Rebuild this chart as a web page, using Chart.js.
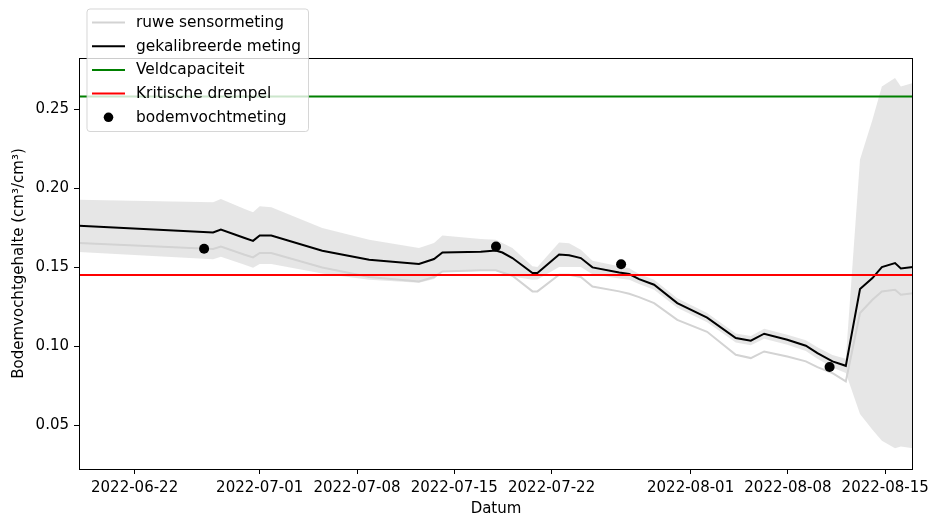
<!DOCTYPE html>
<html lang="nl">
<head>
<meta charset="utf-8">
<title>Bodemvochtgehalte</title>
<script src="https://cdn.jsdelivr.net/npm/chart.js@4.4.1/dist/chart.umd.min.js"></script>
<style>
  html, body { margin: 0; padding: 0; background: #fff; }
  #wrap { width: 928px; height: 517px; }
</style>
</head>
<body>
<div id="wrap"><canvas id="grafiek" width="928" height="517"></canvas></div>
<script>
// Meetmomenten van de sensor (UTC)
const tijdstippen = [
  '2022-06-18T00:00', '2022-06-27T15:30', '2022-06-28T05:00', '2022-06-29T22:00',
  '2022-06-30T12:30', '2022-07-01T00:00', '2022-07-01T20:00', '2022-07-05T12:00',
  '2022-07-08T21:00', '2022-07-12T11:00', '2022-07-13T13:00', '2022-07-14T03:30',
  '2022-07-16T21:45', '2022-07-17T23:40', '2022-07-18T11:00', '2022-07-19T04:20',
  '2022-07-20T15:00', '2022-07-20T23:30', '2022-07-22T13:00', '2022-07-23T06:15',
  '2022-07-24T02:30', '2022-07-24T22:30', '2022-07-26T20:40', '2022-07-27T14:00',
  '2022-07-28T07:00', '2022-07-29T09:00', '2022-07-31T01:00', '2022-08-02T04:30',
  '2022-08-04T06:00', '2022-08-05T08:00', '2022-08-06T07:00', '2022-08-07T23:00',
  '2022-08-09T07:00', '2022-08-10T03:00', '2022-08-11T05:00', '2022-08-12T04:00',
  '2022-08-13T04:30', '2022-08-14T02:00', '2022-08-14T18:15', '2022-08-15T17:00',
  '2022-08-16T03:00', '2022-08-17T00:00'
];

// Ruwe sensorwaarden (cm3/cm3)
const ruweMeting = [
  0.1652, 0.1614, 0.1630, 0.1578, 0.1561, 0.1589, 0.1589, 0.1497,
  0.1437, 0.1409, 0.1437, 0.1472, 0.1479, 0.1479, 0.1466, 0.1445,
  0.1346, 0.1346, 0.1451, 0.1451, 0.1437, 0.1377, 0.1346, 0.1331,
  0.1310, 0.1272, 0.1166, 0.1090, 0.0945, 0.0924, 0.0966, 0.0934,
  0.0903, 0.0867, 0.0829, 0.0776, 0.1209, 0.1293, 0.1346, 0.1356,
  0.1325, 0.1335
];

// Gekalibreerde waarden (cm3/cm3)
const gekalibreerdeMeting = [
  0.1761, 0.1719, 0.1738, 0.1684, 0.1666, 0.1700, 0.1700, 0.1603,
  0.1546, 0.1519, 0.1551, 0.1592, 0.1597, 0.1605, 0.1592, 0.1557,
  0.1462, 0.1462, 0.1580, 0.1574, 0.1557, 0.1498, 0.1466, 0.1456,
  0.1424, 0.1388, 0.1272, 0.1180, 0.1051, 0.1034, 0.1078, 0.1040,
  0.1002, 0.0956, 0.0903, 0.0875, 0.1361, 0.1430, 0.1500, 0.1525,
  0.1491, 0.1500
];

// Onzekerheidsband rond de gekalibreerde meting
const bandBoven = [
  0.1926, 0.1910, 0.1931, 0.1868, 0.1847, 0.1885, 0.1879, 0.1747,
  0.1673, 0.1620, 0.1652, 0.1700, 0.1677, 0.1673, 0.1652, 0.1620,
  0.1505, 0.1500, 0.1656, 0.1650, 0.1610, 0.1540, 0.1505, 0.1492,
  0.1456, 0.1420, 0.1302, 0.1210, 0.1080, 0.1063, 0.1110, 0.1072,
  0.1036, 0.0993, 0.0943, 0.0920, 0.2180, 0.2432, 0.2643, 0.2696,
  0.2643, 0.2665
];
const bandOnder = [
  0.1596, 0.1550, 0.1565, 0.1515, 0.1495, 0.1520, 0.1520, 0.1460,
  0.1420, 0.1400, 0.1425, 0.1470, 0.1475, 0.1475, 0.1462, 0.1440,
  0.1420, 0.1422, 0.1500, 0.1500, 0.1500, 0.1455, 0.1428, 0.1420,
  0.1392, 0.1356, 0.1242, 0.1150, 0.1022, 0.1005, 0.1046, 0.1008,
  0.0968, 0.0920, 0.0865, 0.0830, 0.0570, 0.0470, 0.0400, 0.0354,
  0.0365, 0.0354
];

// Handmatige bodemvochtmetingen
const puntDatums = ['2022-06-27', '2022-07-18', '2022-07-27', '2022-08-11'];
const puntWaarden = [0.1616, 0.1630, 0.1518, 0.0867];

// Referentieniveaus
const veldcapaciteit = 0.258;
const kritischeDrempel = 0.145;

// Asindeling
const xBereik = ['2022-06-18T00:00', '2022-08-17T00:00'];
const xTickDatums = ['2022-06-22', '2022-07-01', '2022-07-08', '2022-07-15',
                     '2022-07-22', '2022-08-01', '2022-08-08', '2022-08-15'];
const yTicks = [0.05, 0.10, 0.15, 0.20, 0.25];
const yBereik = [0.0222, 0.2823];

const naarMs = s => Date.parse(s.length === 10 ? s + 'T00:00:00Z' : s + ':00Z');
const reeks = (tijden, waarden) => tijden.map((s, i) => ({ x: naarMs(s), y: waarden[i] }));

const xMin = naarMs(xBereik[0]);
const xMax = naarMs(xBereik[1]);
const FONT = '"DejaVu Sans", "Liberation Sans", sans-serif';
const FS = 15;
const FS_LEGENDA = 15.4;

Chart.defaults.font.family = FONT;
Chart.defaults.font.size = FS;
Chart.defaults.color = '#000';

// Kader rond het tekengebied
const kaderPlugin = {
  id: 'kader',
  afterDatasetsDraw(chart) {
    const { ctx, chartArea: a } = chart;
    ctx.save();
    ctx.strokeStyle = '#000';
    ctx.lineWidth = 1;
    ctx.strokeRect(Math.round(a.left) + 0.5, Math.round(a.top) + 0.5,
                   Math.round(a.right - a.left) - 1, Math.round(a.bottom - a.top));
    ctx.restore();
  }
};

// Legenda linksboven, half doorzichtig
const legendaPlugin = {
  id: 'legenda',
  afterDraw(chart) {
    const ctx = chart.ctx;
    const items = chart.data.datasets.filter(d => d.label);
    const x0 = 87, y0 = 9, w = 221.5, h = 122.5, r = 3;
    ctx.save();
    ctx.beginPath();
    ctx.moveTo(x0 + r, y0);
    ctx.arcTo(x0 + w, y0, x0 + w, y0 + h, r);
    ctx.arcTo(x0 + w, y0 + h, x0, y0 + h, r);
    ctx.arcTo(x0, y0 + h, x0, y0, r);
    ctx.arcTo(x0, y0, x0 + w, y0, r);
    ctx.closePath();
    ctx.fillStyle = 'rgba(255,255,255,0.8)';
    ctx.fill();
    ctx.strokeStyle = 'rgba(204,204,204,0.8)';
    ctx.lineWidth = 1;
    ctx.stroke();
    ctx.font = FS_LEGENDA + 'px ' + FONT;
    ctx.textBaseline = 'middle';
    ctx.textAlign = 'left';
    items.forEach((d, i) => {
      const y = 22.5 + i * 23.7;
      if (d.type === 'scatter') {
        ctx.beginPath();
        ctx.fillStyle = d.backgroundColor;
        ctx.arc(108.5, y, 4.8, 0, Math.PI * 2);
        ctx.fill();
      } else {
        ctx.beginPath();
        ctx.strokeStyle = d.borderColor;
        ctx.lineWidth = 2;
        ctx.moveTo(92, y);
        ctx.lineTo(125, y);
        ctx.stroke();
      }
      ctx.fillStyle = '#000';
      ctx.fillText(d.label, 136, y + 0.5);
    });
    ctx.restore();
  }
};

const lijn = (label, data, kleur, breedte, volgorde) => ({
  type: 'line', label, data,
  borderColor: kleur, backgroundColor: kleur,
  borderWidth: breedte, pointRadius: 0, tension: 0, fill: false,
  order: volgorde
});

const datasets = [
  { type: 'line', data: reeks(tijdstippen, bandBoven), borderWidth: 0, pointRadius: 0,
    backgroundColor: 'rgba(128,128,128,0.2)', borderColor: 'rgba(0,0,0,0)',
    fill: { target: '+1' }, tension: 0, order: 7 },
  { type: 'line', data: reeks(tijdstippen, bandOnder), borderWidth: 0, pointRadius: 0,
    borderColor: 'rgba(0,0,0,0)', fill: false, tension: 0, order: 6 },
  lijn('ruwe sensormeting', reeks(tijdstippen, ruweMeting), '#d3d3d3', 2, 5),
  lijn('gekalibreerde meting', reeks(tijdstippen, gekalibreerdeMeting), '#000000', 2, 4),
  lijn('Veldcapaciteit', reeks(xBereik, [veldcapaciteit, veldcapaciteit]), '#008000', 2, 3),
  lijn('Kritische drempel', reeks(xBereik, [kritischeDrempel, kritischeDrempel]), '#ff0000', 2, 2),
  { type: 'scatter', label: 'bodemvochtmeting', data: reeks(puntDatums, puntWaarden),
    backgroundColor: '#000000', borderColor: '#000000', borderWidth: 0,
    pointRadius: 5, order: 1 }
];

new Chart(document.getElementById('grafiek'), {
  data: { datasets },
  options: {
    responsive: false,
    animation: false,
    events: [],
    layout: { padding: { top: 58, right: 15, left: 0, bottom: 0 } },
    plugins: { legend: { display: false }, tooltip: { enabled: false } },
    scales: {
      x: {
        type: 'linear',
        min: xMin, max: xMax,
        afterBuildTicks: s => { s.ticks = xTickDatums.map(d => ({ value: naarMs(d) })); },
        afterFit: s => { s.height = 48; s.paddingLeft = 0; s.paddingRight = 0; },
        ticks: {
          autoSkip: false, maxRotation: 0, padding: 5,
          callback: v => new Date(v).toISOString().slice(0, 10)
        },
        grid: { display: true, drawOnChartArea: false, drawTicks: true, tickLength: 5, color: '#000', lineWidth: 1 },
        border: { display: false },
        title: { display: true, text: 'Datum', padding: { top: 0, bottom: -1 } }
      },
      y: {
        type: 'linear',
        min: yBereik[0], max: yBereik[1],
        afterBuildTicks: s => { s.ticks = yTicks.map(v => ({ value: v })); },
        afterFit: s => { s.width = 79; s.paddingTop = 0; s.paddingBottom = 0; },
        ticks: { padding: 5, callback: v => v.toFixed(2) },
        grid: { display: true, drawOnChartArea: false, drawTicks: true, tickLength: 5, color: '#000', lineWidth: 1 },
        border: { display: false },
        title: { display: true, text: 'Bodemvochtgehalte (cm³/cm³)', padding: { top: 10, bottom: 0 } }
      }
    }
  },
  plugins: [kaderPlugin, legendaPlugin]
});
</script>
</body>
</html>
